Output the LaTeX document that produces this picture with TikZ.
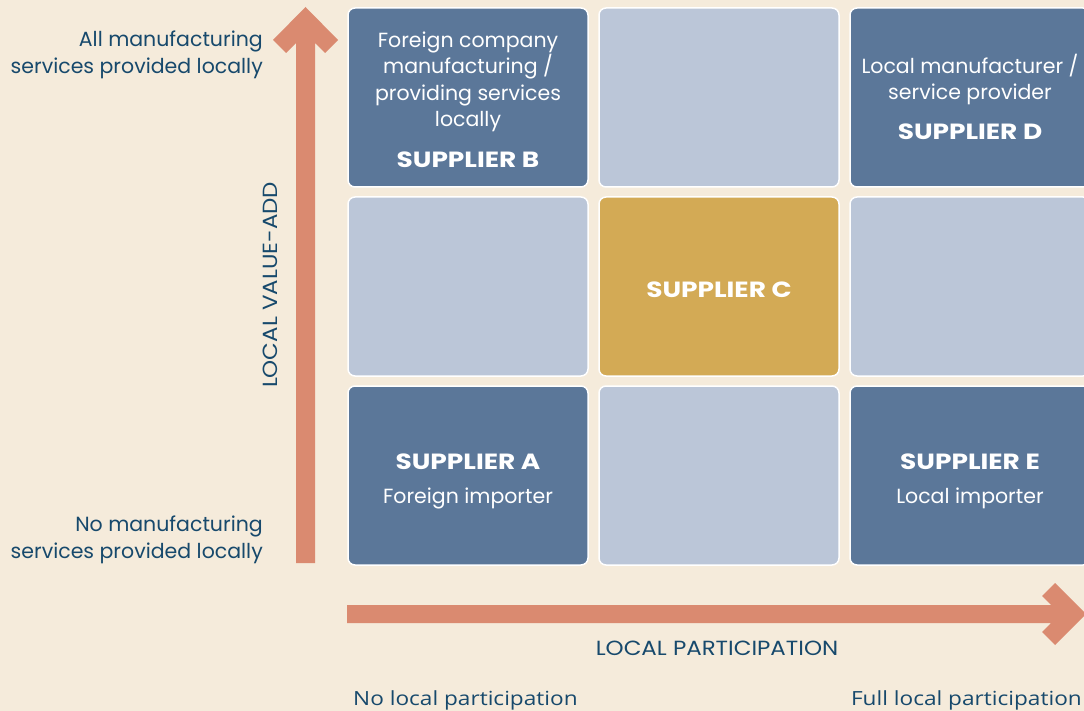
\documentclass[tikz,border=0pt]{standalone}
\usepackage{fontspec}
\setmainfont{Poppins}
\newfontfamily\widefont[FakeStretch=1.12]{Poppins}
\newfontfamily\boldwide[FakeStretch=1.2]{Poppins}
\newfontfamily\labelfont[FakeStretch=1.16]{Open Sans}
\definecolor{bg}{HTML}{F5EBDB}
\definecolor{cellDark}{HTML}{5B7799}
\definecolor{cellLight}{HTML}{BBC6D8}
\definecolor{cellGold}{HTML}{D3AA55}
\definecolor{axis}{HTML}{DA8A70}
\definecolor{ink}{HTML}{17496C}
\tikzset{
  cell/.style={draw=white, line width=1.5pt, rounded corners=7pt,
    minimum width=240pt, minimum height=179pt, inner sep=0pt},
  dark/.style={cell, fill=cellDark},
  light/.style={cell, fill=cellLight},
  gold/.style={cell, fill=cellGold},
  % multi-line texts: the base anchor sits on the last line
  celltext/.style={anchor=base, align=center, text=white, inner sep=0pt,
    font=\fontsize{20.5}{26.5}\selectfont},
  cellname/.style={anchor=base, text=white, inner sep=0pt,
    font=\boldwide\bfseries\fontsize{22}{26}\selectfont},
  axistext/.style={anchor=base east, align=right, text=ink, inner sep=0pt,
    font=\fontsize{20.5}{27}\selectfont},
  axiscaps/.style={anchor=base, text=ink, inner sep=0pt,
    font=\widefont\fontsize{20.5}{26}\selectfont},
  endlabel/.style={text=ink, inner sep=0pt, font=\labelfont\fontsize{19.5}{24}\selectfont},
  axisfill/.style={fill=axis, draw=none}
}
\begin{document}
\begin{tikzpicture}[x=1pt, y=-1pt]
  \useasboundingbox[fill=bg] (0,0) rectangle (1084,711);
  \clip (0,0) rectangle (1084,711);

  % grid of suppliers
  \node[dark]  (b)  at (468,97.5)  {};
  \node[light] (tm) at (719,97.5)  {};
  \node[dark]  (d)  at (970,97.5)  {};
  \node[light] (ml) at (468,286.5) {};
  \node[gold]  (c)  at (719,286.5) {};
  \node[light] (mr) at (970,286.5) {};
  \node[dark]  (a)  at (468,475.5) {};
  \node[light] (bm) at (719,475.5) {};
  \node[dark]  (e)  at (970,475.5) {};

  % texts inside the cells
  \node[celltext] (btext) at (468,127) {Foreign company\\manufacturing /\\providing services\\locally};
  \node[cellname] (bname) at (468,168) {SUPPLIER B};
  \node[celltext] (dtext) at (970,100) {Local manufacturer /\\service provider};
  \node[cellname] (dname) at (970,140) {SUPPLIER D};
  \node[cellname] (cname) at (719,298) {SUPPLIER C};
  \node[cellname] (aname) at (468,469) {SUPPLIER A};
  \node[celltext] (atext) at (468,503) {Foreign importer};
  \node[cellname] (ename) at (970,469) {SUPPLIER E};
  \node[celltext] (etext) at (970,503) {Local importer};

  % vertical axis arrow
  \fill[axisfill] (296,563) -- (296,43) -- (286,53) -- (273,40) -- (305.5,7)
    -- (338,40) -- (325,53) -- (315,43) -- (315,563) -- cycle;
  % horizontal axis arrow
  \fill[axisfill] (347,605) -- (1051,605) -- (1042,596) -- (1055,583) -- (1086,614)
    -- (1055,645) -- (1042,632) -- (1051,623) -- (347,623) -- cycle;

  % axis texts
  \node[axistext] (top) at (263,74) {All manufacturing\\services provided locally};
  \node[axistext] (bottom) at (263,558) {No manufacturing\\services provided locally};
  \node[axiscaps, rotate=90] (vlabel) at (277,285) {LOCAL VALUE-ADD};
  \node[axiscaps] (hlabel) at (717,655) {LOCAL PARTICIPATION};
  \node[endlabel, anchor=base west] (nolp) at (353,705) {No local participation};
  \node[endlabel, anchor=base east] (fulllp) at (1082,705) {Full local participation};
\end{tikzpicture}
\end{document}
